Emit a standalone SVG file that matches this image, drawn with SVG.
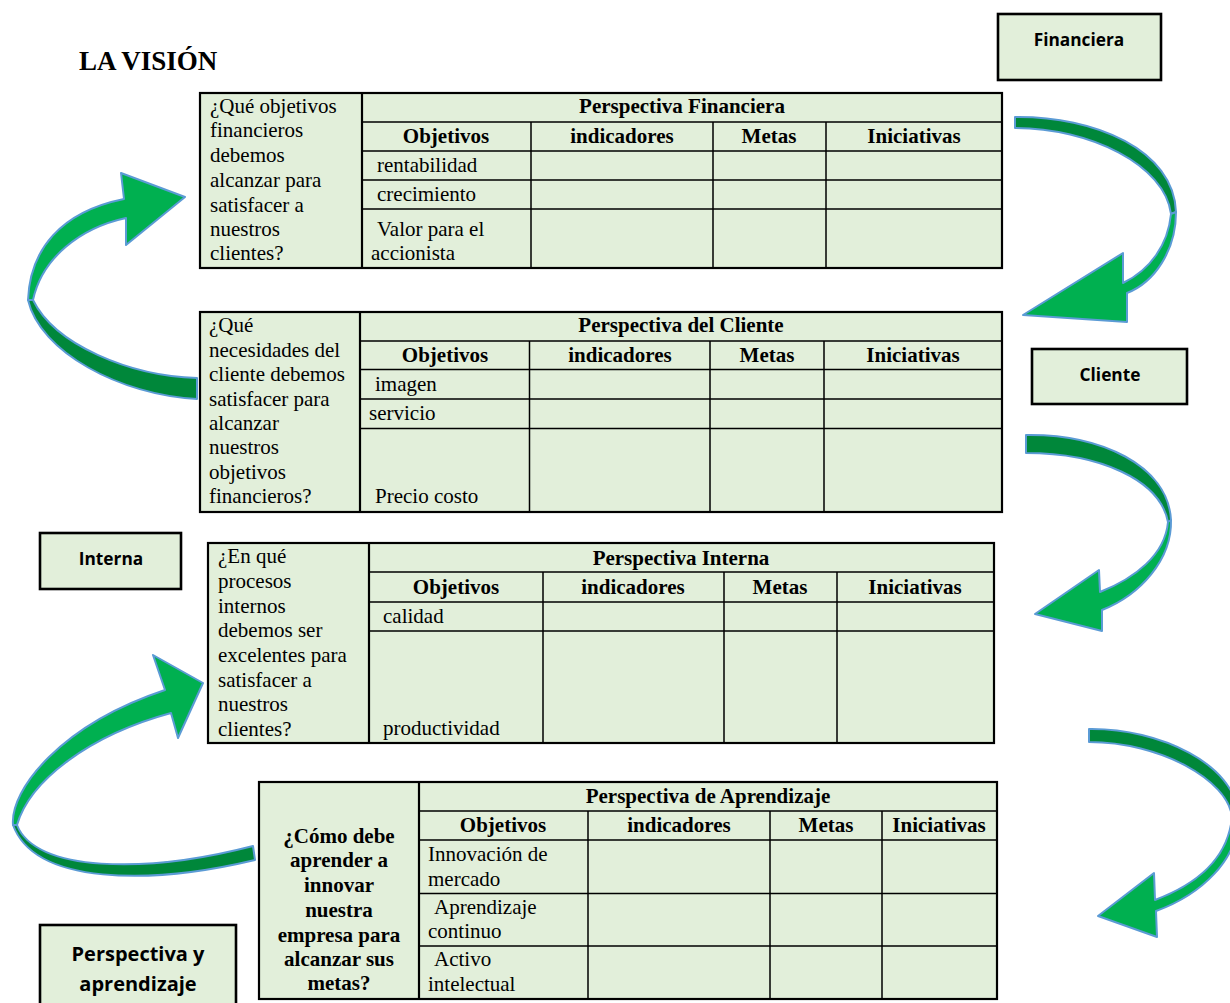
<svg xmlns="http://www.w3.org/2000/svg" width="1230" height="1003" viewBox="0 0 1230 1003">
<style>
.bg{fill:#E2EFDA;stroke:none}
.ln{fill:none;stroke:#000;stroke-width:1.5}
.ol{fill:none;stroke:#000;stroke-width:2.2}
.t{font-family:"Liberation Serif","Times New Roman",serif;font-size:21px;fill:#000}
.b{font-weight:bold}
.c{text-anchor:middle}
.box{fill:#E2EFDA;stroke:#000;stroke-width:2.6}
.lbl{font-family:"Open Sans","Liberation Sans",sans-serif;font-weight:700;font-size:17.3px;fill:#000;text-anchor:middle}
.big{font-size:20px}
.dk{fill:#00873A;stroke:#5B9BD5;stroke-width:2;stroke-linejoin:round}
.br{fill:#00B050;stroke:#5B9BD5;stroke-width:2;stroke-linejoin:round}
</style>
<rect width="1230" height="1003" fill="#fff"/>
<text class="t b" x="79" y="70" style="font-size:27px">LA VISIÓN</text>

<g id="connectors">
  <g id="arrow-1">
    <path class="dk" d="M197,378 C130,376 55,345 33,300 L28,300 C40,352 120,395 197,399 Z"/>
    <path class="br" d="M28,300 C30,250 60,212 124,199 L121,173 L185,197 L126,245 L126,218 C80,228 42,258 33,300 Z"/>
  </g>
  <g id="arrow-2">
    <path class="dk" d="M1015,117 C1095,116 1174,150 1176,212 L1171,214 C1165,165 1090,128 1015,128 Z"/>
    <path class="br" d="M1176,212 C1176,250 1155,282 1127,293 L1127,322 L1023,315 L1123,253 L1123,283 C1150,270 1168,245 1171,214 Z"/>
  </g>
  <g id="arrow-3">
    <path class="dk" d="M1026,435 C1100,434 1168,465 1171,520 L1168,522 C1160,480 1100,453 1026,453 Z"/>
    <path class="br" d="M1171,520 C1172,560 1140,595 1102,610 L1102,631 L1035,614 L1099,570 L1100,592 C1135,578 1165,555 1168,522 Z"/>
  </g>
  <g id="arrow-4">
    <path class="dk" d="M1089,729 C1160,728 1236,765 1238,815 L1232,817 C1228,780 1160,742 1089,742 Z"/>
    <path class="br" d="M1238,815 C1240,860 1200,895 1156,911 L1157,937 L1098,916 L1154,873 L1155,900 C1195,885 1228,860 1232,817 Z"/>
  </g>
  <g id="arrow-5">
    <path class="dk" d="M17,825 C35,872 145,874 253,846 L255,860 C150,885 35,885 13,825 Z"/>
    <path class="br" d="M13,825 C10,790 60,725 165,690 L153,655 L203,683 L178,738 L171,713 C90,735 30,780 17,825 Z"/>
  </g>
</g>

<g id="label-financiera">
  <rect class="box" x="998" y="14" width="163" height="66"/>
  <text class="lbl" x="1079" y="46">Financiera</text>
</g>
<g id="label-cliente">
  <rect class="box" x="1032" y="349" width="155" height="55"/>
  <text class="lbl" x="1110" y="381">Cliente</text>
</g>
<g id="label-interna">
  <rect class="box" x="40" y="533" width="141" height="56"/>
  <text class="lbl" x="111" y="565">Interna</text>
</g>
<g id="label-aprendizaje">
  <rect class="box" x="40" y="925" width="196" height="95"/>
  <text class="lbl big" x="138" y="961">Perspectiva y</text>
  <text class="lbl big" x="138" y="991">aprendizaje</text>
</g>

<g id="table-financiera">
  <rect class="bg" x="200" y="93" width="802" height="175"/>
  <path class="ln" d="M531,122V268M713,122V268M826,122V268M362,122H1002M362,151H1002M362,180H1002M362,209H1002"/>
  <path class="ol" d="M362,93V268"/>
  <rect class="ol" x="200" y="93" width="802" height="175"/>
  <text class="t" x="210"><tspan x="210" y="113">¿Qué objetivos</tspan><tspan x="210" y="137">financieros</tspan><tspan x="210" y="162">debemos</tspan><tspan x="210" y="187">alcanzar para</tspan><tspan x="210" y="212">satisfacer a</tspan><tspan x="210" y="236">nuestros</tspan><tspan x="210" y="260">clientes?</tspan></text>
  <text class="t b c" x="682" y="113">Perspectiva Financiera</text>
  <text class="t b c" x="446" y="143">Objetivos</text>
  <text class="t b c" x="622" y="143">indicadores</text>
  <text class="t b c" x="769" y="143">Metas</text>
  <text class="t b c" x="914" y="143">Iniciativas</text>
  <text class="t" x="377" y="172">rentabilidad</text>
  <text class="t" x="377" y="201">crecimiento</text>
  <text class="t" x="377" y="236">Valor para el</text>
  <text class="t" x="371" y="260">accionista</text>
</g>

<g id="table-cliente">
  <rect class="bg" x="200" y="312" width="802" height="200"/>
  <path class="ln" d="M529.5,341V512M710,341V512M824,341V512M360,341H1002M360,369.5H1002M360,399H1002M360,428.5H1002"/>
  <path class="ol" d="M360,312V512"/>
  <rect class="ol" x="200" y="312" width="802" height="200"/>
  <text class="t"><tspan x="209" y="332">¿Qué</tspan><tspan x="209" y="357">necesidades del</tspan><tspan x="209" y="381">cliente debemos</tspan><tspan x="209" y="406">satisfacer para</tspan><tspan x="209" y="430">alcanzar</tspan><tspan x="209" y="454">nuestros</tspan><tspan x="209" y="479">objetivos</tspan><tspan x="209" y="503">financieros?</tspan></text>
  <text class="t b c" x="681" y="332">Perspectiva del Cliente</text>
  <text class="t b c" x="445" y="362">Objetivos</text>
  <text class="t b c" x="620" y="362">indicadores</text>
  <text class="t b c" x="767" y="362">Metas</text>
  <text class="t b c" x="913" y="362">Iniciativas</text>
  <text class="t" x="375" y="391">imagen</text>
  <text class="t" x="369" y="420">servicio</text>
  <text class="t" x="375" y="503">Precio costo</text>
</g>

<g id="table-interna">
  <rect class="bg" x="208" y="543" width="786" height="200"/>
  <path class="ln" d="M543,572V743M724,572V743M837,572V743M369,572H994M369,602H994M369,631H994"/>
  <path class="ol" d="M369,543V743"/>
  <rect class="ol" x="208" y="543" width="786" height="200"/>
  <text class="t"><tspan x="218" y="563">¿En qué</tspan><tspan x="218" y="588">procesos</tspan><tspan x="218" y="613">internos</tspan><tspan x="218" y="637">debemos ser</tspan><tspan x="218" y="662">excelentes para</tspan><tspan x="218" y="687">satisfacer a</tspan><tspan x="218" y="711">nuestros</tspan><tspan x="218" y="736">clientes?</tspan></text>
  <text class="t b c" x="681" y="565">Perspectiva Interna</text>
  <text class="t b c" x="456" y="594">Objetivos</text>
  <text class="t b c" x="633" y="594">indicadores</text>
  <text class="t b c" x="780" y="594">Metas</text>
  <text class="t b c" x="915" y="594">Iniciativas</text>
  <text class="t" x="383" y="623">calidad</text>
  <text class="t" x="383" y="735">productividad</text>
</g>

<g id="table-aprendizaje">
  <rect class="bg" x="259" y="782" width="738" height="217"/>
  <path class="ln" d="M588,811V999M770,811V999M882,811V999M419,811H997M419,840H997M419,893.5H997M419,946H997"/>
  <path class="ol" d="M419,782V999"/>
  <rect class="ol" x="259" y="782" width="738" height="217"/>
  <text class="t b c"><tspan x="339" y="843">¿Cómo debe</tspan><tspan x="339" y="867">aprender a</tspan><tspan x="339" y="892">innovar</tspan><tspan x="339" y="917">nuestra</tspan><tspan x="339" y="942">empresa para</tspan><tspan x="339" y="966">alcanzar sus</tspan><tspan x="339" y="990">metas?</tspan></text>
  <text class="t b c" x="708" y="803">Perspectiva de Aprendizaje</text>
  <text class="t b c" x="503" y="832">Objetivos</text>
  <text class="t b c" x="679" y="832">indicadores</text>
  <text class="t b c" x="826" y="832">Metas</text>
  <text class="t b c" x="939" y="832">Iniciativas</text>
  <text class="t" x="428" y="861">Innovación de</text>
  <text class="t" x="428" y="886">mercado</text>
  <text class="t" x="434" y="914">Aprendizaje</text>
  <text class="t" x="428" y="938">continuo</text>
  <text class="t" x="434" y="966">Activo</text>
  <text class="t" x="428" y="991">intelectual</text>
</g>
</svg>
